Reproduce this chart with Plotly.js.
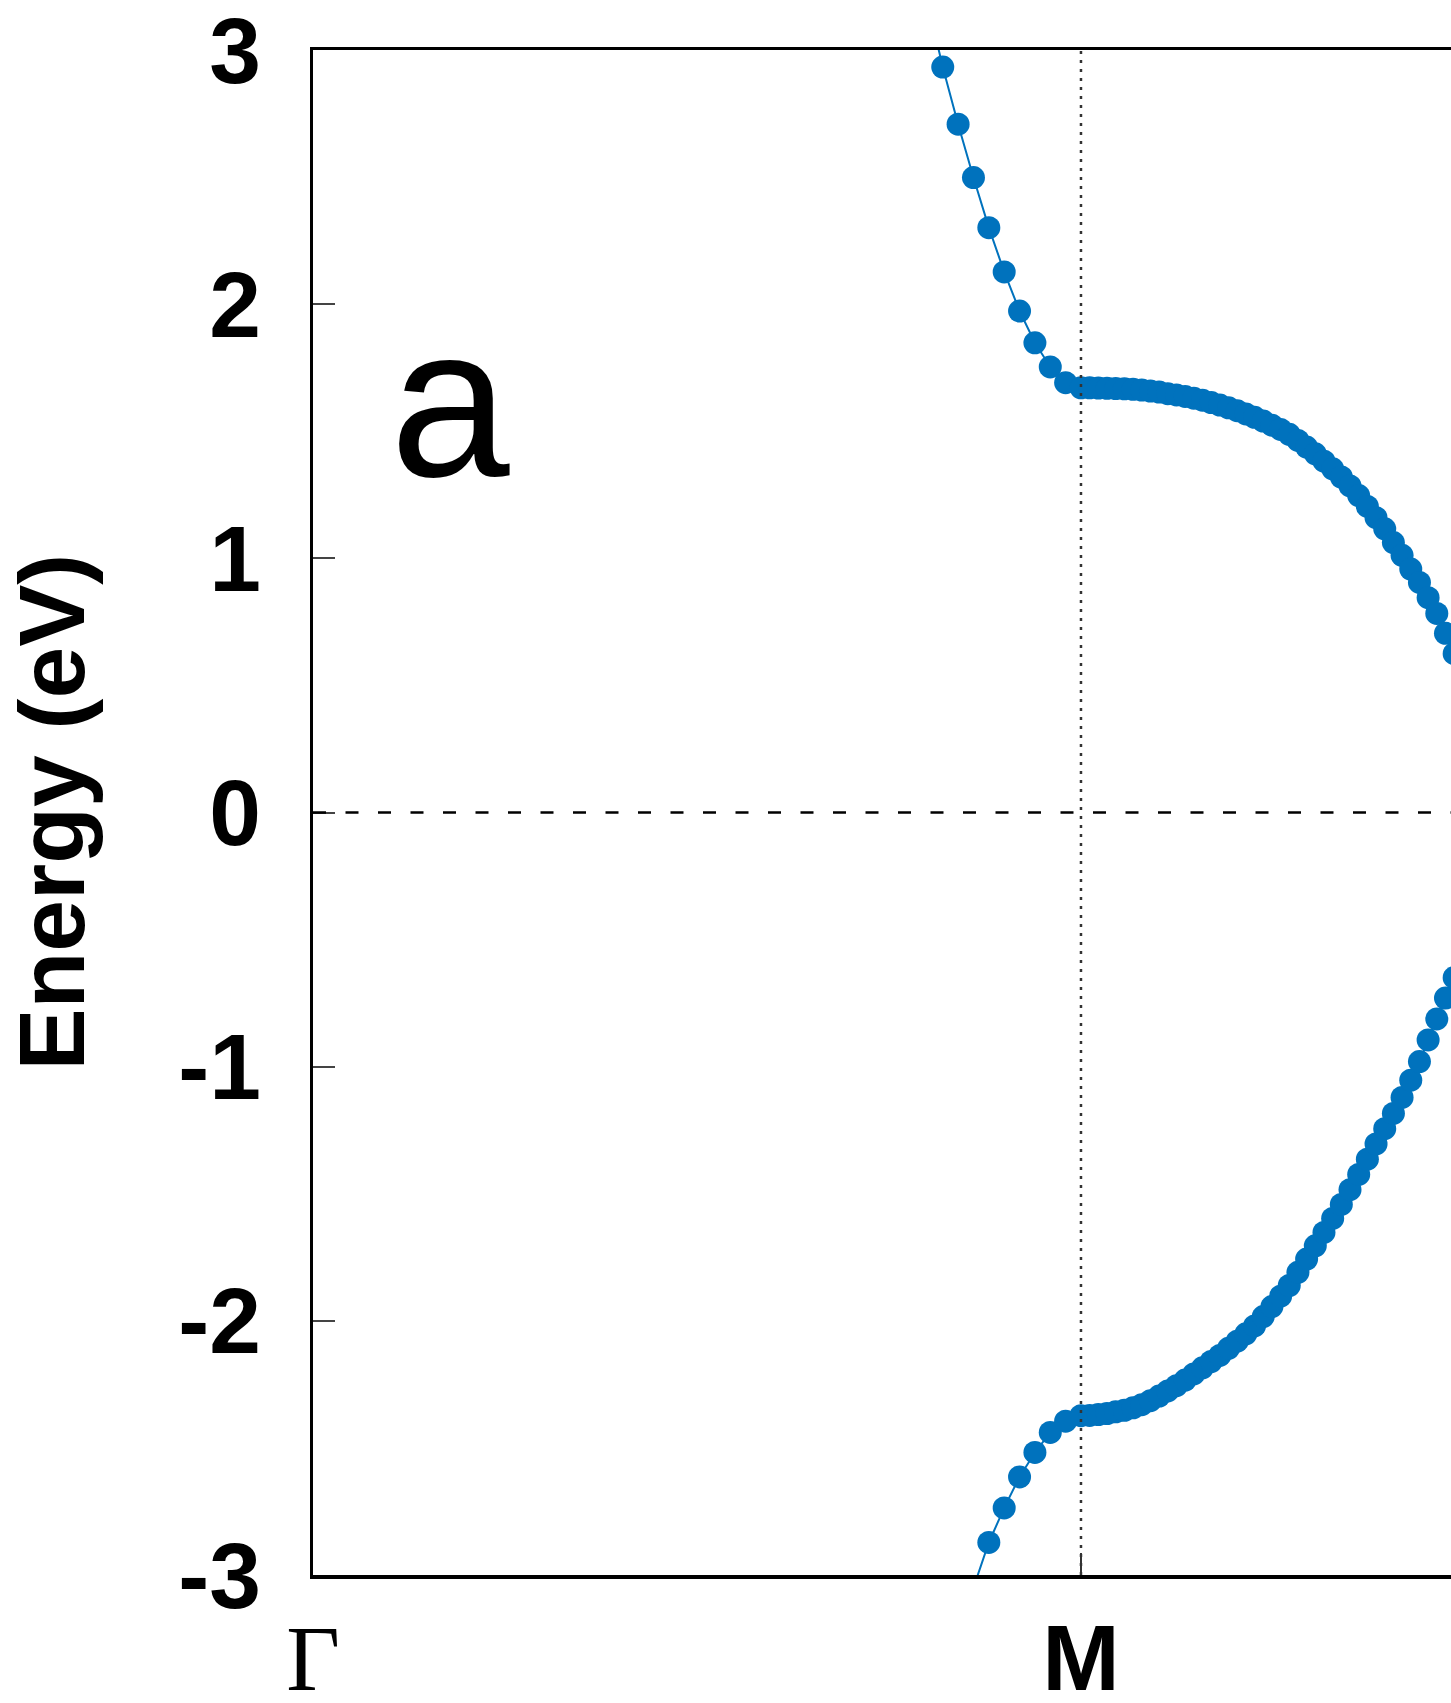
<!DOCTYPE html>
<html>
<head>
<meta charset="utf-8">
<script src="https://cdn.plot.ly/plotly-3.0.1.min.js"></script>
<style>
  html, body { margin: 0; padding: 0; background: #ffffff; overflow: hidden; }
  #plot { width: 1451px; height: 1703px; }
</style>
</head>
<body>
<div id="plot"></div>
<script>
// k-path coordinate (Gamma = 0, M = 1), one entry per plotted k-point
const kPoints = [0.80, 0.82, 0.84, 0.86, 0.88, 0.90, 0.92, 0.94, 0.96, 0.98,
  1.0000, 1.0113, 1.0226, 1.0339, 1.0452, 1.0565, 1.0678, 1.0791, 1.0904, 1.1017,
  1.1130, 1.1243, 1.1356, 1.1469, 1.1582, 1.1695, 1.1808, 1.1921, 1.2034, 1.2147,
  1.2260, 1.2373, 1.2486, 1.2599, 1.2712, 1.2825, 1.2938, 1.3051, 1.3164, 1.3277,
  1.3390, 1.3503, 1.3616, 1.3729, 1.3842, 1.3955, 1.4068, 1.4181, 1.4294, 1.4407,
  1.4520, 1.4633, 1.4746, 1.4859];

// conduction band energies (eV)
const upperBand = [3.19, 2.933, 2.708, 2.498, 2.301, 2.127, 1.973, 1.848, 1.753, 1.691,
  1.671, 1.671, 1.670, 1.669, 1.668, 1.667, 1.665, 1.662, 1.658, 1.654,
  1.648, 1.643, 1.637, 1.630, 1.622, 1.613, 1.603, 1.592, 1.581, 1.568,
  1.555, 1.540, 1.524, 1.507, 1.488, 1.464, 1.438, 1.411, 1.382, 1.352,
  1.320, 1.285, 1.247, 1.204, 1.160, 1.116, 1.062, 1.012, 0.958, 0.905,
  0.845, 0.783, 0.705, 0.625];

// valence band energies (eV); null = below the visible window, not readable
const lowerBand = [null, null, null, -3.05, -2.872, -2.736, -2.614, -2.518, -2.439, -2.395,
  -2.373, -2.372, -2.369, -2.365, -2.358, -2.352, -2.342, -2.330, -2.314, -2.296,
  -2.276, -2.255, -2.233, -2.209, -2.185, -2.160, -2.136, -2.108, -2.080, -2.051,
  -2.020, -1.983, -1.944, -1.903, -1.861, -1.809, -1.757, -1.705, -1.652, -1.597,
  -1.542, -1.484, -1.424, -1.364, -1.304, -1.244, -1.184, -1.121, -1.053, -0.980,
  -0.895, -0.812, -0.730, -0.650];

// high-symmetry points
const kTickVals = [0, 1];
const kTickLabels = ['<span style="font-family:\'Liberation Serif\',\'Times New Roman\',serif;font-weight:normal">Γ</span>', 'M'];

// energy axis
const energyTicks = [-3, -2, -1, 0, 1, 2, 3];
const energyTickLabels = ['-3', '-2', '-1', '0', '1', '2', '3'];
const energyRange = [-3, 3];
const kRange = [0, 1.4818];
const mPoint = 1;

const bandColor = '#0072bd';
const sans = "'Liberation Sans', Arial, Helvetica, sans-serif";

function bandTrace(y) {
  return {
    x: kPoints, y: y, type: 'scatter', mode: 'lines+markers',
    line: {color: bandColor, width: 2},
    marker: {color: bandColor, size: 23},
    cliponaxis: true, showlegend: false, hoverinfo: 'skip'
  };
}

const data = [bandTrace(upperBand), bandTrace(lowerBand)];

const layout = {
  width: 1451, height: 1703,
  margin: {l: 313, r: 0, t: 50, b: 128, pad: 0},
  paper_bgcolor: '#ffffff', plot_bgcolor: '#ffffff',
  showlegend: false,
  xaxis: {
    range: kRange, showgrid: false, zeroline: false,
    showline: true, linewidth: 3.5, linecolor: '#000000', mirror: true,
    ticks: 'inside', ticklen: 22, tickwidth: 2, tickcolor: '#333333',
    tickmode: 'array', tickvals: kTickVals, ticktext: kTickLabels,
    tickfont: {family: sans, size: 93, color: '#000000', weight: 'bold'},
    ticklabelstandoff: 0, ticklabeloverflow: 'allow'
  },
  yaxis: {
    range: energyRange, showgrid: false, zeroline: false,
    showline: true, linewidth: 3.5, linecolor: '#000000', mirror: false,
    ticks: 'inside', ticklen: 22, tickwidth: 2, tickcolor: '#444444',
    tickmode: 'array', tickvals: energyTicks, ticktext: energyTickLabels,
    tickfont: {family: sans, size: 93, color: '#000000', weight: 'bold'},
    ticklabelstandoff: 30, ticklabeloverflow: 'allow'
  },
  shapes: [
    {type: 'line', xref: 'x', yref: 'paper', x0: mPoint, x1: mPoint, y0: 0, y1: 1,
     line: {color: '#333333', width: 2.5, dash: '3px,6px'}},
    {type: 'line', xref: 'paper', yref: 'y', x0: 0, x1: 1, y0: 0, y1: 0,
     line: {color: '#000000', width: 2.5, dash: '13px,19.5px'}}
  ],
  annotations: [
    {text: 'Energy (eV)', xref: 'paper', yref: 'paper', x: 0, y: 0.5,
     xanchor: 'center', yanchor: 'middle', xshift: -262, textangle: -90,
     showarrow: false, font: {family: sans, size: 93, color: '#000000', weight: 'bold'}},
    {text: 'a', xref: 'paper', yref: 'paper', x: 0, y: 1,
     xanchor: 'center', yanchor: 'middle', xshift: 137, yshift: -351,
     showarrow: false, font: {family: sans, size: 215, color: '#000000'}}
  ]
};

Plotly.newPlot('plot', data, layout, {displayModeBar: false, staticPlot: true});
</script>
</body>
</html>
